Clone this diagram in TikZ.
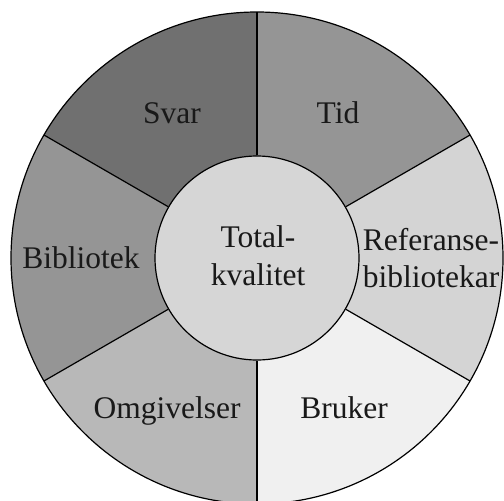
\documentclass[tikz,border=0pt]{standalone}
\usepackage{fontspec}
\setmainfont{Liberation Serif}
\definecolor{svarc}{gray}{0.44}
\definecolor{tidc}{gray}{0.585}
\definecolor{bibc}{gray}{0.585}
\definecolor{omgc}{gray}{0.72}
\definecolor{brukc}{gray}{0.94}
\definecolor{refc}{gray}{0.83}
\definecolor{cenc}{gray}{0.84}
\definecolor{txt}{gray}{0.1}
\begin{document}
\begin{tikzpicture}[x=1pt,y=1pt,
  lbl/.style={font=\fontsize{31.5}{38}\selectfont, anchor=base, inner sep=0pt, text=txt},
  edge/.style={line width=1.2pt, draw=black}]
\useasboundingbox (0,0) rectangle (504,-501);
\fill[white] (0,0) rectangle (504,-501);
\clip (0,0) rectangle (504,-501);
\coordinate (O) at (257,-258);
\def\R{246}
\fill[tidc]  (O) -- ++(30:\R)  arc (30:90:\R)   -- cycle;
\fill[svarc] (O) -- ++(90:\R)  arc (90:150:\R)  -- cycle;
\fill[bibc]  (O) -- ++(150:\R) arc (150:210:\R) -- cycle;
\fill[omgc]  (O) -- ++(210:\R) arc (210:270:\R) -- cycle;
\fill[brukc] (O) -- ++(270:\R) arc (270:330:\R) -- cycle;
\fill[refc]  (O) -- ++(330:\R) arc (330:390:\R) -- cycle;
\draw[edge] (O) circle (\R);
\node[circle, edge, fill=cenc, minimum size=204pt, inner sep=0pt] (c) at (O) {};
\foreach \a in {30,90,150,210,270,330}{
  \path (O) ++(\a:\R) coordinate (e\a);
  \draw[edge] (c.\a) -- (e\a);
}
\node[lbl] (svar) at (172,-123) {Svar};
\node[lbl] (tid) at (338,-123) {Tid};
\node[lbl] (bib) at (81,-268) {Bibliotek};
\node[lbl] (tot1) at (258,-247) {Total-};
\node[lbl] (tot2) at (258,-285) {kvalitet};
\node[lbl] (ref1) at (431,-250) {Referanse-};
\node[lbl] (ref2) at (431,-287) {bibliotekar};
\node[lbl] (omg) at (167,-418) {Omgivelser};
\node[lbl] (bruk) at (344,-418) {Bruker};
\end{tikzpicture}
\end{document}
